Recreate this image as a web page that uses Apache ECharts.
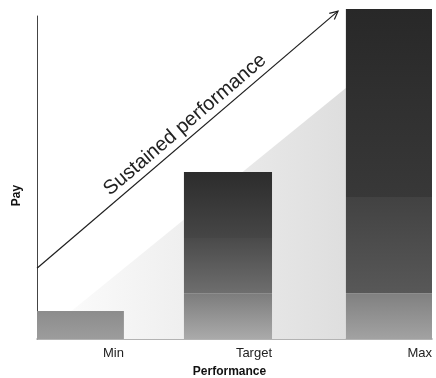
<!DOCTYPE html>
<html><head><meta charset="utf-8">
<script src="https://cdn.jsdelivr.net/npm/echarts@6/dist/echarts.min.js"></script>
<style>html,body{margin:0;padding:0;background:#fff}#c{width:436px;height:378px}</style>
</head><body><div id="c"></div>
<script>
// ---- data (performance on x, pay on y, both 0-100 scales) ----
const categories = ['Min', 'Target', 'Max'];
const barStart = [0, 37.2, 78.2];
const barEnd = [22, 59.5, 100];
const basePay = [8.7, 14.2, 14.2];
const midPay = [null, 31.3, 44];
const topPay = [null, 51.7, 102.2];
const sustainedX = [0, 76.2];
const sustainedY = [21.9, 101.5];
const stippleX = [0, 78.2];
const stippleY = [0, 77.7];
const sustainedLabel = 'Sustained performance';
const xName = 'Performance';
const yName = 'Pay';

// ---- styles ----
const FONT = '"Liberation Sans", Arial, Helvetica, sans-serif';
function vgrad(top, bottom) {
  return {type: 'linear', x: 0, y: 0, x2: 0, y2: 1,
    colorStops: [{offset: 0, color: top}, {offset: 1, color: bottom}]};
}
const segStyles = [
  [vgrad('#8c8c8c', '#9c9c9c'), vgrad('#7c7c7c', '#aaaaaa'), vgrad('#808080', '#a2a2a2')],
  [null, vgrad('#4a4a4a', '#6e6e6e'), vgrad('#424242', '#585858')],
  [null, vgrad('#2c2c2c', '#464646'), vgrad('#282828', '#383838')]
];

// build segment rows: [xStart, xEnd, yLow, yHigh, barIndex]
const levels = [];
levels.push(categories.map((c, i) => [barStart[i], barEnd[i], 0, basePay[i], i]));
levels.push(categories.map((c, i) => midPay[i] == null ? null : [barStart[i], barEnd[i], basePay[i], midPay[i], i]).filter(Boolean));
levels.push(categories.map((c, i) => topPay[i] == null ? null : [barStart[i], barEnd[i], midPay[i], topPay[i], i]).filter(Boolean));

function rectRenderer(level) {
  return function (params, api) {
    const p0 = api.coord([api.value(0), api.value(3)]);
    const p1 = api.coord([api.value(1), api.value(2)]);
    return {
      type: 'rect',
      shape: {x: p0[0], y: p0[1], width: p1[0] - p0[0], height: p1[1] - p0[1]},
      style: {fill: segStyles[level][api.value(4)]}
    };
  };
}

const chart = echarts.init(document.getElementById('c'), null, {renderer: 'canvas'});

const series = [];
series.push({
  type: 'line',
  data: stippleX.map((x, i) => [x, stippleY[i]]),
  symbol: 'none',
  lineStyle: {width: 0},
  areaStyle: {
    color: {type: 'linear', x: 0, y: 0, x2: 1, y2: 0,
      colorStops: [{offset: 0, color: '#fefefe'}, {offset: 0.5, color: '#eeeeee'}, {offset: 1, color: '#dedede'}]},
    opacity: 1
  },
  silent: true, z: 1
});
levels.forEach((rows, lv) => {
  series.push({
    type: 'custom',
    renderItem: rectRenderer(lv),
    data: rows,
    encode: {x: [0, 1], y: [2, 3]},
    clip: false,
    silent: true,
    z: 2
  });
});
series.push({
  type: 'custom',
  data: [[sustainedX[0], sustainedY[0], sustainedX[1], sustainedY[1]]],
  encode: {x: [0, 2], y: [1, 3]},
  clip: false,
  silent: true,
  z: 3,
  renderItem: function (params, api) {
    const a = api.coord([api.value(0), api.value(1)]);
    const b = api.coord([api.value(2), api.value(3)]);
    const dx = b[0] - a[0], dy = b[1] - a[1];
    const len = Math.sqrt(dx * dx + dy * dy);
    const ux = dx / len, uy = dy / len;
    const ang = Math.atan2(-dy, dx);
    const head = 9, spread = 0.45;
    const w1 = [b[0] - head * (ux * Math.cos(spread) - uy * Math.sin(spread)),
                b[1] - head * (uy * Math.cos(spread) + ux * Math.sin(spread))];
    const w2 = [b[0] - head * (ux * Math.cos(-spread) - uy * Math.sin(-spread)),
                b[1] - head * (uy * Math.cos(-spread) + ux * Math.sin(-spread))];
    // normal pointing up-left of the line
    const nx = uy, ny = -ux;
    const t = 0.52;
    const mx = a[0] + dx * t + nx * 13;
    const my = a[1] + dy * t + ny * 13;
    return {
      type: 'group',
      children: [
        {type: 'line', shape: {x1: a[0], y1: a[1], x2: b[0], y2: b[1]},
         style: {stroke: '#1e1e1e', lineWidth: 1.2}},
        {type: 'polyline', shape: {points: [w1, b, w2]},
         style: {stroke: '#1e1e1e', lineWidth: 1.2, fill: null}},
        {type: 'text', x: mx, y: my, rotation: ang,
         style: {text: sustainedLabel, font: '20px ' + FONT, fill: '#222',
                 align: 'center', verticalAlign: 'middle'}}
      ]
    };
  }
});

chart.setOption({
  animation: false,
  backgroundColor: '#fff',
  grid: {left: 37, right: 4, top: 16, bottom: 39, containLabel: false, outerBoundsMode: 'none'},
  xAxis: {
    type: 'value', min: 0, max: 100,
    name: xName, nameLocation: 'middle', nameGap: 27,
    nameTextStyle: {fontFamily: FONT, fontWeight: 'bold', fontSize: 12, color: '#111', padding: [0, 10, 0, 0]},
    axisLine: {show: true, lineStyle: {color: '#9a9a9a', width: 1.5}},
    axisTick: {show: false},
    splitLine: {show: false},
    axisLabel: {
      customValues: barEnd,
      formatter: function (v) { const i = barEnd.indexOf(v); return i >= 0 ? categories[i] : ''; },
      align: 'right', margin: 8, fontFamily: FONT, fontSize: 13, color: '#222'
    }
  },
  yAxis: {
    type: 'value', min: 0, max: 100,
    name: yName, nameLocation: 'middle', nameGap: 14, nameRotate: 90,
    nameTextStyle: {fontFamily: FONT, fontWeight: 'bold', fontSize: 12, color: '#111', padding: [0, 36, 0, 0]},
    axisLine: {show: true, lineStyle: {color: '#444', width: 1}},
    axisTick: {show: false},
    axisLabel: {show: false},
    splitLine: {show: false}
  },
  series: series
});
</script></body></html>
